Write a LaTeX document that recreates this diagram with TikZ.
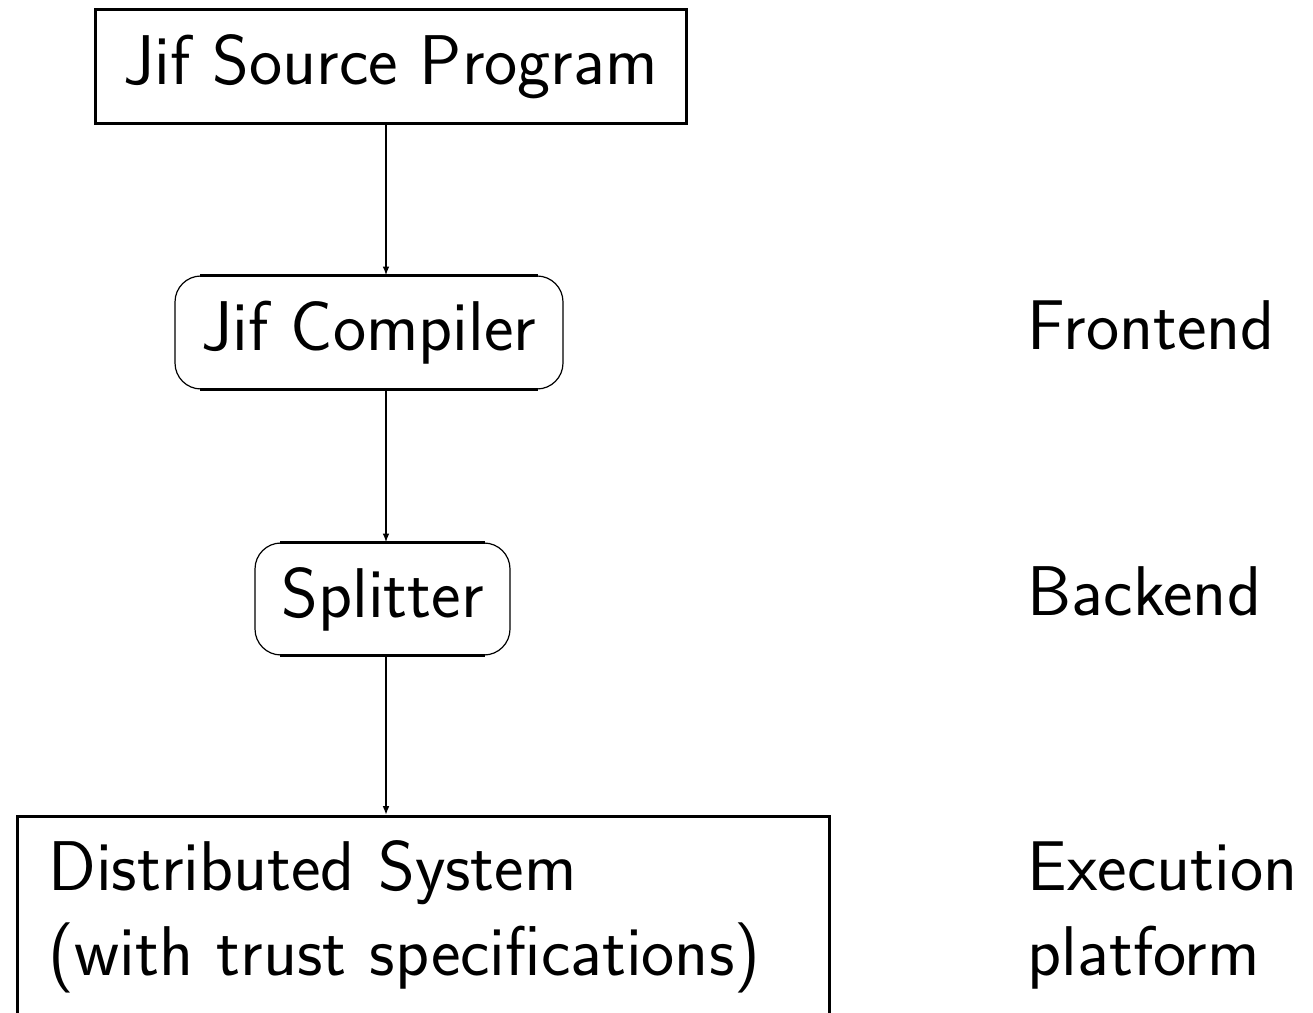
\documentclass[tikz,border=0pt]{standalone}
\usetikzlibrary{arrows.meta,positioning}
\begin{document}
\begin{tikzpicture}[x=0.25pt,y=-0.25pt,>={Latex[length=2.2pt,width=1.7pt]},
  every node/.style={font=\sffamily\fontsize{17.6}{21.25}\selectfont},
  plain/.style={draw,line width=0.75pt,inner sep=0pt},
  stage/.style={draw,line width=0.3pt,rounded corners=6.5pt,inner sep=0pt},
  flow/.style={->,line width=0.5pt}]
  \clip (0,0) rectangle (1313,1013);
  \coordinate (axis) at (386,0);
  % boxes
  \node[plain,minimum width=147.75pt,minimum height=28.5pt] (src) at (390.5,67) {Jif Source Program};
  \node[stage,minimum width=97pt,minimum height=28.25pt] (cmp) at (369,332.5) {Jif Compiler};
  \node[stage,minimum width=63.75pt,minimum height=28pt] (spl) at (382.5,599) {Splitter};
  \node[plain,anchor=north west,text width=187.5pt,inner xsep=7.75pt,inner ysep=6pt,align=left] (dist) at (16,815) {Distributed System\\(with trust specifications)};
  \foreach \n in {cmp,spl}
    \draw[line width=0.75pt] ([xshift=6.5pt]\n.north west) -- ([xshift=-6.5pt]\n.north east)
      ([xshift=6.5pt]\n.south west) -- ([xshift=-6.5pt]\n.south east);
  % phases
  \node[anchor=base west,inner sep=0pt] (fe) at (1027,350) {Frontend};
  \node[anchor=base west,inner sep=0pt] (be) at (1027,615) {Backend};
  \node[anchor=base west,inner sep=0pt,align=left] (ex) at (1027,975) {Execution\\platform};
  % flow
  \draw[flow] (src.south -| axis) -- (cmp.north -| axis);
  \draw[flow] (cmp.south -| axis) -- (spl.north -| axis);
  \draw[flow] (spl.south -| axis) -- (dist.north -| axis);
\end{tikzpicture}
\end{document}
